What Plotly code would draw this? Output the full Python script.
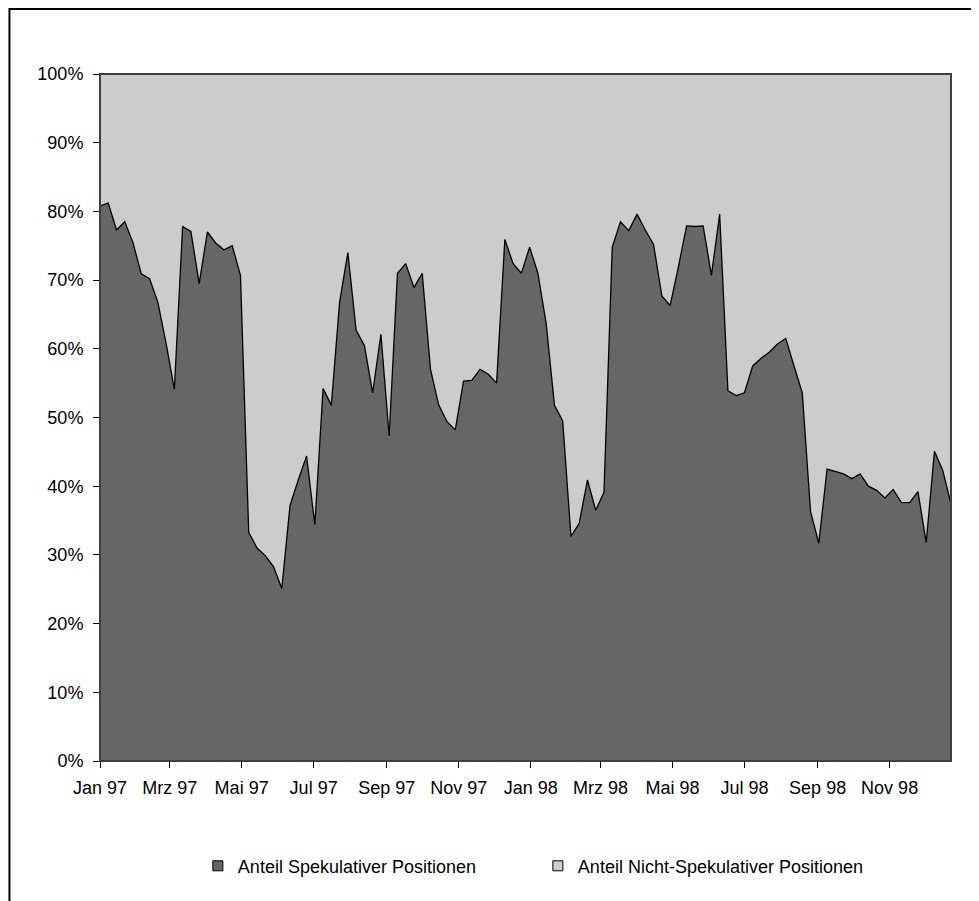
import pandas as pd
import plotly.graph_objects as go

# weekly reporting dates (Tuesdays), Jan 97 - Dec 98
dates = pd.date_range("1997-01-07", periods=104, freq="7D")

spekulativ = [
    80.8, 81.2, 77.3, 78.5, 75.4, 70.9, 70.2, 66.8, 60.8, 54.1,
    77.8, 77.1, 69.5, 77.0, 75.4, 74.4, 75.0, 70.7, 33.3, 31.0,
    29.9, 28.3, 25.1, 37.2, 40.9, 44.4, 34.4, 54.2, 51.8, 66.8,
    74.0, 62.7, 60.5, 53.6, 62.1, 47.3, 71.0, 72.4, 68.9, 71.0,
    57.0, 51.8, 49.4, 48.2, 55.3, 55.4, 57.0, 56.3, 55.0, 75.9,
    72.4, 71.0, 74.8, 71.0, 63.7, 51.8, 49.5, 32.7, 34.6, 40.9,
    36.5, 39.1, 74.8, 78.5, 77.2, 79.6, 77.3, 75.2, 67.7, 66.3,
    71.9, 77.9, 77.8, 77.9, 70.7, 79.6, 53.9, 53.2, 53.6, 57.5,
    58.6, 59.5, 60.7, 61.5, 57.5, 53.6, 36.3, 31.7, 42.5, 42.2,
    41.8, 41.1, 41.8, 40.0, 39.4, 38.3, 39.5, 37.6, 37.6, 39.2,
    31.8, 45.1, 42.3, 37.4,
]

nicht_spekulativ = [
    19.2, 18.8, 22.7, 21.5, 24.6, 29.1, 29.8, 33.2, 39.2, 45.9,
    22.2, 22.9, 30.5, 23.0, 24.6, 25.6, 25.0, 29.3, 66.7, 69.0,
    70.1, 71.7, 74.9, 62.8, 59.1, 55.6, 65.6, 45.8, 48.2, 33.2,
    26.0, 37.3, 39.5, 46.4, 37.9, 52.7, 29.0, 27.6, 31.1, 29.0,
    43.0, 48.2, 50.6, 51.8, 44.7, 44.6, 43.0, 43.7, 45.0, 24.1,
    27.6, 29.0, 25.2, 29.0, 36.3, 48.2, 50.5, 67.3, 65.4, 59.1,
    63.5, 60.9, 25.2, 21.5, 22.8, 20.4, 22.7, 24.8, 32.3, 33.7,
    28.1, 22.1, 22.2, 22.1, 29.3, 20.4, 46.1, 46.8, 46.4, 42.5,
    41.4, 40.5, 39.3, 38.5, 42.5, 46.4, 63.7, 68.3, 57.5, 57.8,
    58.2, 58.9, 58.2, 60.0, 60.6, 61.7, 60.5, 62.4, 62.4, 60.8,
    68.2, 54.9, 57.7, 62.6,
]

tick_dates = ["1997-01-07", "1997-03-07", "1997-05-07", "1997-07-07", "1997-09-07", "1997-11-07",
              "1998-01-07", "1998-03-07", "1998-05-07", "1998-07-07", "1998-09-07", "1998-11-07"]
tick_text = ["Jan 97", "Mrz 97", "Mai 97", "Jul 97", "Sep 97", "Nov 97",
             "Jan 98", "Mrz 98", "Mai 98", "Jul 98", "Sep 98", "Nov 98"]

names = ["Anteil Spekulativer Positionen", "Anteil Nicht-Spekulativer Positionen"]
colors = ["#666666", "#cccccc"]

fig = go.Figure()
fig.add_trace(go.Scatter(
    x=dates, y=spekulativ, name=names[0], showlegend=False,
    mode="lines", stackgroup="one", groupnorm="percent",
    line=dict(color="black", width=1.3), fillcolor=colors[0],
))
fig.add_trace(go.Scatter(
    x=dates, y=nicht_spekulativ, name=names[1], showlegend=False,
    mode="lines", stackgroup="one",
    line=dict(color=colors[1], width=0), fillcolor=colors[1],
))
# legend entries with square keys
for n, c in zip(names, colors):
    fig.add_trace(go.Scatter(
        x=[None], y=[None], name=n, mode="markers",
        marker=dict(symbol="square", size=10, color=c, line=dict(color="black", width=1)),
    ))

# outer chart frame and plot area border
fig.add_shape(type="rect", xref="paper", yref="paper", x0=-0.1064, x1=1.06, y0=-0.25, y1=1.0946,
              line=dict(color="black", width=2), layer="above")
fig.add_shape(type="rect", xref="paper", yref="paper", x0=0, x1=1, y0=0, y1=1,
              line=dict(color="#404040", width=2), layer="above")

fig.update_layout(
    width=979, height=901,
    margin=dict(l=92, r=36, t=66, b=148),
    paper_bgcolor="white", plot_bgcolor="#cccccc",
    font=dict(family="Liberation Sans, Arial, sans-serif", size=18, color="black"),
    showlegend=True,
    legend=dict(orientation="h", x=0.115, xanchor="left", y=-0.153, yanchor="middle",
                entrywidth=295, entrywidthmode="pixels", itemwidth=30,
                traceorder="normal", font=dict(size=18)),
    xaxis=dict(
        type="date", range=["1997-01-07", "1998-12-29"],
        tickvals=tick_dates, ticktext=tick_text,
        ticks="outside", ticklen=6, tickcolor="black", ticklabelstandoff=4,
        showline=True, linecolor="black", linewidth=1,
        showgrid=False, zeroline=False,
    ),
    yaxis=dict(
        range=[0, 100], tickvals=list(range(0, 101, 10)),
        ticktext=[f"{v}%" for v in range(0, 101, 10)],
        ticks="outside", ticklen=6, tickcolor="black", ticklabelstandoff=6,
        showline=True, linecolor="black", linewidth=1,
        showgrid=False, zeroline=False,
    ),
)

fig.write_html("out.html")
